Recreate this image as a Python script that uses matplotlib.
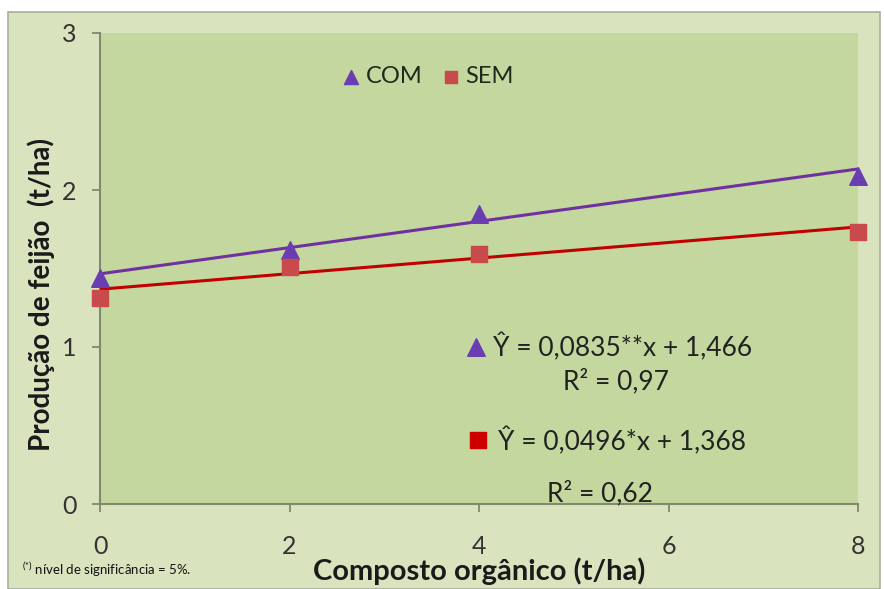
import matplotlib
matplotlib.use("Agg")
import matplotlib.pyplot as plt
from matplotlib.patches import Rectangle
import numpy as np

x = [0, 2, 4, 8]
com = [1.44, 1.62, 1.85, 2.09]
sem = [1.31, 1.51, 1.59, 1.73]
com_coef = (0.0835, 1.466)
sem_coef = (0.0496, 1.368)
xticks = [0, 2, 4, 6, 8]
yticks = [0, 1, 2, 3]

plt.rcParams['font.family'] = ['Lato', 'DejaVu Sans']
plt.rcParams['mathtext.fontset'] = 'custom'
plt.rcParams['mathtext.rm'] = 'Lato'

fig = plt.figure(figsize=(8.84, 5.89), dpi=100)
fig.patch.set_facecolor('white')
bg = Rectangle((8/884, 0), 1 - 12/884, 1 - 12/589, transform=fig.transFigure,
               facecolor='#d9e4bf', edgecolor='#a9b09a', linewidth=1.2, zorder=-10)
fig.add_artist(bg)

ax = fig.add_axes([100/884, 1 - 504/589, 758/884, 471/589])
ax.set_zorder(1)
ax.set_facecolor('#c4d79e')
ax.set_xlim(0, 8)
ax.set_ylim(0, 3)
for s in ['top', 'right']:
    ax.spines[s].set_visible(False)
for s in ['left', 'bottom']:
    ax.spines[s].set_color('#7f8a6e')
    ax.spines[s].set_linewidth(1.5)
ax.set_xticks(xticks)
ax.set_yticks(yticks)
ax.tick_params(colors='#7f8a6e', labelcolor='#333333', labelsize=18, length=6, width=1.3)
ax.tick_params(axis='x', pad=16)
ax.tick_params(axis='y', pad=11)

xs = np.array([0, 8])
ax.plot(xs, com_coef[0] * xs + com_coef[1], color='#7030a0', lw=2.2, zorder=3)
ax.plot(xs, sem_coef[0] * xs + sem_coef[1], color='#c00000', lw=2.2, zorder=3)
ax.scatter(x, com, marker='^', s=160, color='#6a3db3', zorder=4, label='COM', clip_on=False)
ax.scatter(x, sem, marker='s', s=120, color='#c84a4a', zorder=4, label='SEM', clip_on=False)

leg = ax.legend(loc='upper left', bbox_to_anchor=(0.285, 0.975), ncol=2, frameon=False,
                fontsize=17, handletextpad=0.0, columnspacing=0.6, markerscale=0.8,
                handlelength=1.2)
for t in leg.get_texts():
    t.set_color('#1e2a1e')

ax.set_ylabel('Produção de feijão  (t/ha)', fontsize=20, fontweight='bold', color='#1a1a1a')
ax.yaxis.set_label_coords(-0.06, 0.445)
ax.set_xlabel('Composto orgânico (t/ha)', fontsize=21, fontweight='bold', color='#1a1a1a', labelpad=0)

ax.scatter([3.97], [1.0], marker='^', s=160, color='#6a3db3', clip_on=False, zorder=4)
ax.text(4.15, 1.0, 'Ŷ = 0,0835**x + 1,466', fontsize=19, va='center', ha='left', color='#222222')
ax.text(5.45, 0.78, 'R² = 0,97', fontsize=19, va='center', ha='center', color='#222222')
ax.scatter([3.99], [0.41], marker='s', s=120, color='#cc0000', clip_on=False, zorder=4)
ax.text(4.2, 0.40, 'Ŷ = 0,0496*x + 1,368', fontsize=19, va='center', ha='left', color='#222222')
ax.text(5.28, 0.07, 'R² = 0,62', fontsize=19, va='center', ha='center', color='#222222')

fig.text(22/884, 1 - 570/589, r'$^{(*)}$ nível de significância = 5%.', fontsize=9.5, va='center',
         ha='left', color='#111111')

fig.savefig('out.png', dpi=100)
